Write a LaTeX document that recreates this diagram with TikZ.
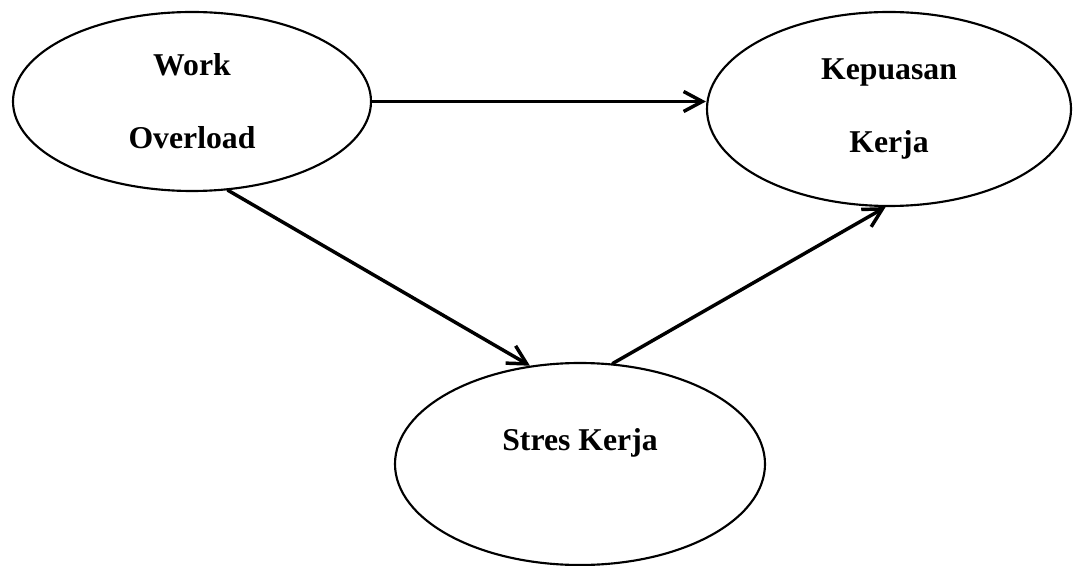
\documentclass[tikz,border=0pt]{standalone}
\usepackage{fontspec}
\setmainfont{Liberation Serif}
\usetikzlibrary{arrows.meta,shapes.geometric}
\tikzset{
  varnode/.style={ellipse,draw,line width=1.6pt,inner sep=0pt},
  varlabel/.style={font=\fontsize{23.8}{54.75}\selectfont\bfseries,align=center},
  linkarrow/.style={-{Straight Barb[length=14pt,width=15pt]},line width=2.6pt},
  every picture/.style={line cap=round,line join=round}
}

\begin{document}
\begin{tikzpicture}[x=0.75pt,y=-0.75pt]
  \useasboundingbox (0,0) rectangle (1073,566);
  % variables
  \node[varnode,varlabel,minimum width=268.5pt,minimum height=134.25pt] (wo) at (192,101.5) {Work\\Overload};
  \node[varnode,varlabel,minimum width=273pt,minimum height=145.5pt] (kk) at (889,109) {Kepuasan\\Kerja};
  \node[varnode,minimum width=277.5pt,minimum height=151.5pt] (sk) at (580,464) {};
  \node[varlabel] (sklabel) at ([yshift=15.5pt]sk.center) {Stres Kerja};
  % relations
  \draw[linkarrow] (wo.east) -- (wo.east -| kk.west);
  \draw[linkarrow] (wo.-68) -- (sk.117);
  \draw[linkarrow] (sk.72) -- (kk.-92);
\end{tikzpicture}
\end{document}
